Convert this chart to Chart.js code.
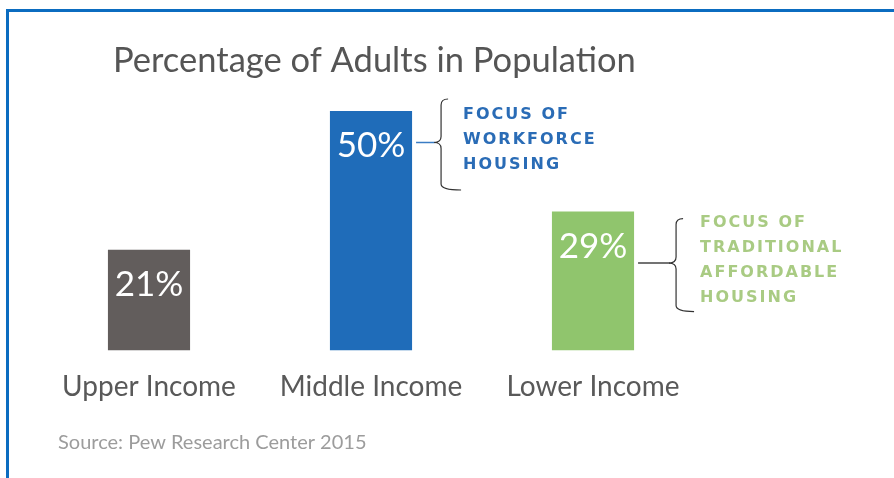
<!DOCTYPE html>
<html>
<head>
<meta charset="utf-8">
<script src="https://cdn.jsdelivr.net/npm/chart.js@4"></script>
<style>
  html, body { margin: 0; padding: 0; background: #fff; }
  #wrap { position: relative; width: 894px; height: 478px; }
  #frame { position: absolute; left: 6px; top: 9px; right: 0; bottom: 0;
           border-left: 3px solid #0b6cc0; border-top: 3px solid #0b6cc0; }
  canvas { position: absolute; left: 0; top: 0; }
</style>
</head>
<body>
<div id="wrap">
  <div id="frame"></div>
  <canvas id="incomeChart" width="894" height="478"></canvas>
</div>
<script>
const categories = ["Upper Income", "Middle Income", "Lower Income"];
const shares = [21, 50, 29];
const barColors = ["#625d5c", "#1f6cb9", "#90c56d"];
const chartTitle = "Percentage of Adults in Population";
const sourceNote = "Source: Pew Research Center 2015";
// bracket notes next to a bar: text lines and colours
const notes = [
  { bar: 1, lines: ["FOCUS OF", "WORKFORCE", "HOUSING"], color: "#2a6cb6", stub: "#3a7cc4" },
  { bar: 2, lines: ["FOCUS OF", "TRADITIONAL", "AFFORDABLE", "HOUSING"], color: "#a9cb83", stub: "#444" }
];
// bracket geometry relative to the bar's top right corner
const bracketLayout = [
  { gap: 29, top: -12, height: 91, tail: 20, textDx: 22, textTop: 16 },
  { gap: 42, top: 7, height: 93, tail: 18, textDx: 24, textTop: 4 }
];

const decorations = {
  id: "decorations",
  afterDatasetsDraw(chart) {
    const ctx = chart.ctx;
    const meta = chart.getDatasetMeta(0);
    ctx.save();

    // title and source line
    ctx.fillStyle = "#555";
    ctx.font = "34.5px Lato";
    ctx.textAlign = "left";
    ctx.textBaseline = "alphabetic";
    ctx.fillText(chartTitle, 113, 72);
    ctx.fillStyle = "#9c9c9c";
    ctx.font = "20px Lato";
    ctx.fillText(sourceNote, 58, 449);

    // value inside each bar
    ctx.fillStyle = "#fff";
    ctx.font = "35px Lato";
    ctx.textAlign = "center";
    ctx.textBaseline = "middle";
    meta.data.forEach((bar, i) => {
      ctx.fillText(shares[i] + "%", bar.x, bar.y + 35);
    });

    // curly brackets with their notes
    notes.forEach((n, i) => {
      const g = bracketLayout[i];
      const bar = meta.data[n.bar];
      const right = bar.x + bar.width / 2;
      const top = bar.y + g.top;
      const bottom = top + g.height;
      const mid = (top + bottom) / 2 - 2;
      const bx = right + g.gap;
      ctx.strokeStyle = n.stub;
      ctx.lineWidth = 1.5;
      ctx.beginPath();
      ctx.moveTo(right + 4, mid);
      ctx.lineTo(bx - 6, mid);
      ctx.stroke();
      ctx.strokeStyle = "#333";
      ctx.lineWidth = 1.2;
      ctx.beginPath();
      ctx.moveTo(bx + 7, top);
      ctx.quadraticCurveTo(bx, top, bx, top + 6);
      ctx.lineTo(bx, mid - 6);
      ctx.quadraticCurveTo(bx, mid, bx - 7, mid);
      ctx.quadraticCurveTo(bx, mid, bx, mid + 6);
      ctx.lineTo(bx, bottom - 6);
      ctx.quadraticCurveTo(bx, bottom, bx + g.tail, bottom);
      ctx.stroke();

      ctx.fillStyle = n.color;
      ctx.font = "bold 16px 'DejaVu Sans'";
      ctx.letterSpacing = "2px";
      ctx.textAlign = "left";
      ctx.textBaseline = "middle";
      const tx = bx + g.textDx;
      const ty = top + g.textTop;
      n.lines.forEach((line, k) => ctx.fillText(line, tx, ty + k * 25));
      ctx.letterSpacing = "0px";
    });
    ctx.restore();
  }
};

new Chart(document.getElementById("incomeChart"), {
  type: "bar",
  data: {
    labels: categories,
    datasets: [{
      data: shares,
      backgroundColor: barColors,
      borderWidth: 0,
      barPercentage: 0.74,
      categoryPercentage: 0.5
    }]
  },
  options: {
    responsive: false,
    animation: false,
    layout: { padding: { left: 38, right: 190, top: 111, bottom: 54 } },
    plugins: { legend: { display: false }, tooltip: { enabled: false } },
    scales: {
      x: {
        grid: { display: false, drawTicks: false },
        border: { display: false },
        ticks: { color: "#595959", font: { family: "Lato", size: 28 }, padding: 20 }
      },
      y: {
        display: false,
        min: 0,
        max: 50
      }
    }
  },
  plugins: [decorations]
});
</script>
</body>
</html>
